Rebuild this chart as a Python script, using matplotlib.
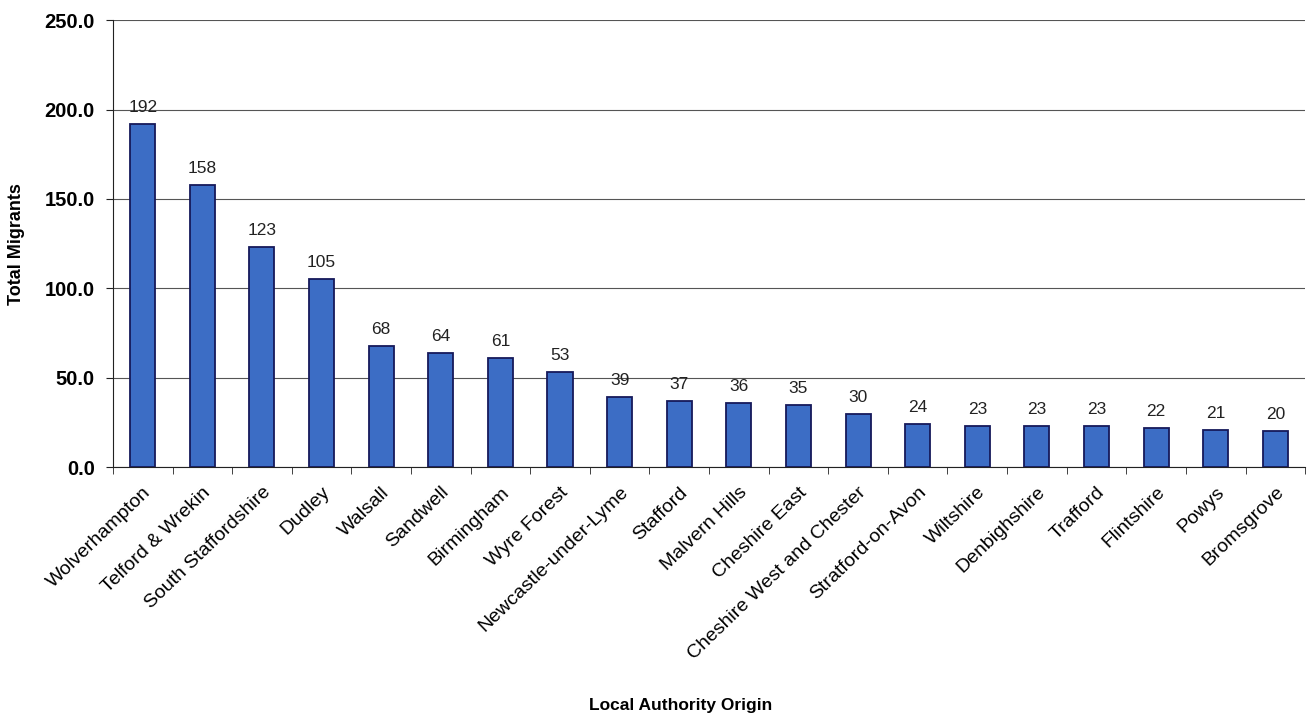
import matplotlib
matplotlib.use("Agg")
import matplotlib.pyplot as plt
import numpy as np

categories = ["Wolverhampton", "Telford & Wrekin", "South Staffordshire", "Dudley", "Walsall",
              "Sandwell", "Birmingham", "Wyre Forest", "Newcastle-under-Lyme", "Stafford",
              "Malvern Hills", "Cheshire East", "Cheshire West and Chester", "Stratford-on-Avon",
              "Wiltshire", "Denbighshire", "Trafford", "Flintshire", "Powys", "Bromsgrove"]
values = [192, 158, 123, 105, 68, 64, 61, 53, 39, 37, 36, 35, 30, 24, 23, 23, 23, 22, 21, 20]
yticks = [0, 50, 100, 150, 200, 250]

plt.rcParams['font.family'] = ['Liberation Sans', 'DejaVu Sans']
fig = plt.figure(figsize=(13.13, 7.22), dpi=100)
ax = fig.add_axes([0.086, 0.353, 0.908, 0.619])

x = np.arange(len(categories))
ax.bar(x, values, width=0.42, color="#3c6dc5", edgecolor="#16195a", linewidth=1.3, zorder=3)
for xi, v in zip(x, values):
    ax.text(xi, v + 5, str(v), ha="center", va="bottom", fontsize=12.5, color="#222222")

ax.set_xlim(-0.5, len(categories) - 0.5)
ax.set_ylim(0, 250)
ax.set_yticks(yticks)
ax.set_yticklabels([f"{t:.1f}" for t in yticks], fontsize=14.5, fontweight="bold")
ax.yaxis.grid(True, color="#555555", linewidth=0.8, zorder=0)
ax.set_axisbelow(True)

ax.set_xticks(x)
ax.set_xticklabels(categories, rotation=44, ha="right", rotation_mode="anchor", fontsize=14)
ax.tick_params(axis="x", length=0, pad=12)
ax.set_xticks(np.arange(-0.5, len(categories)), minor=True)
ax.tick_params(axis="x", which="minor", length=5, color="#222222")
ax.tick_params(axis="y", length=5, color="#222222", pad=8)

for s in ["top", "right"]:
    ax.spines[s].set_visible(False)
ax.spines["left"].set_color("#222222")
ax.spines["bottom"].set_color("#222222")

ax.set_ylabel("Total Migrants", fontsize=13, fontweight="bold", labelpad=14)
fig.text(0.518, 0.012, "Local Authority Origin", ha="center", va="bottom", fontsize=12.5, fontweight="bold")

fig.savefig("out.png", dpi=100)
